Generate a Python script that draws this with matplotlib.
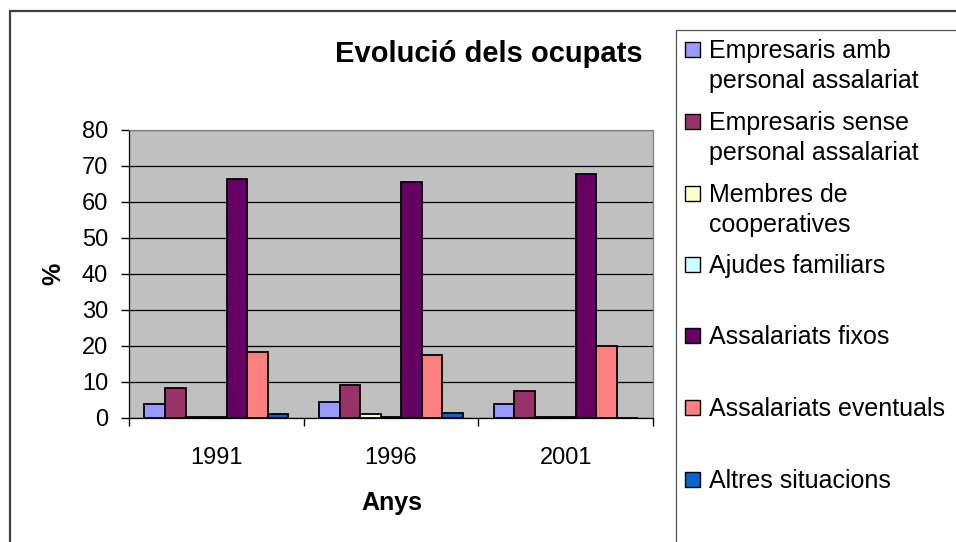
import numpy as np
import matplotlib.pyplot as plt
from matplotlib.patches import Rectangle

plt.rcParams['font.family'] = ['Liberation Sans', 'DejaVu Sans']

years = ['1991', '1996', '2001']
series_names = ['Empresaris amb\npersonal assalariat',
                'Empresaris sense\npersonal assalariat',
                'Membres de\ncooperatives',
                'Ajudes familiars',
                'Assalariats fixos',
                'Assalariats eventuals',
                'Altres situacions']
colors = ['#9999FF', '#993366', '#FFFFCC', '#CCFFFF', '#660066', '#FF8080', '#0066CC']

emp_amb = [3.9, 4.5, 3.9]
emp_sense = [8.3, 9.3, 7.6]
cooperatives = [0.4, 1.2, 0.3]
ajudes = [0.4, 0.4, 0.3]
fixos = [66.5, 65.5, 67.8]
eventuals = [18.2, 17.5, 19.9]
altres = [1.1, 1.5, 0.0]
values = [emp_amb, emp_sense, cooperatives, ajudes, fixos, eventuals, altres]

W, H = 956, 542
fig = plt.figure(figsize=(W / 100, H / 100), dpi=100)

def px(x, y):
    return x / W, 1 - y / H

# outer chart border and legend box (run past the figure edge like the source)
fig.add_artist(Rectangle(px(10, 560), (970 - 10) / W, (560 - 11) / H,
                         transform=fig.transFigure, fill=False,
                         edgecolor='#404040', linewidth=1.6))
fig.add_artist(Rectangle(px(676, 560), (970 - 676) / W, (560 - 30) / H,
                         transform=fig.transFigure, fill=False,
                         edgecolor='#555555', linewidth=0.9))

ax = fig.add_axes([129 / W, 1 - 418 / H, (653 - 129) / W, (418 - 130) / H])
ax.set_facecolor('#C0C0C0')

n = len(values)
x = np.arange(len(years))
bw = 1 / (n + 1.5)
for i, (vals, c) in enumerate(zip(values, colors)):
    offs = (i - (n - 1) / 2) * bw
    ax.bar(x + offs, vals, width=bw, color=c, edgecolor='black',
           linewidth=1.3, zorder=3)

ax.set_xlim(-0.5, len(years) - 0.5)
ax.set_ylim(0, 80)
ax.set_yticks(np.arange(0, 81, 10))
ax.yaxis.grid(True, color='black', linewidth=0.9, zorder=1)
ax.set_axisbelow(True)
ax.set_xticks(x)
ax.set_xticklabels(years)
ax.set_xticks(np.arange(-0.5, len(years), 1), minor=True)
ax.tick_params(axis='x', which='major', length=0, pad=21, labelsize=17)
ax.tick_params(axis='x', which='minor', length=6, width=1, direction='out')
ax.tick_params(axis='y', length=6, width=1, direction='out', labelsize=17, pad=9)
for s in ax.spines.values():
    s.set_color('#808080')
    s.set_linewidth(0.9)
ax.spines['left'].set_color('black')
ax.spines['bottom'].set_color('black')

ax.set_ylabel('%', fontsize=18, fontweight='bold', va='center', ha='center')
ax.yaxis.set_label_coords((53 - 129) / 524, 0.5)
ax.set_xlabel('Anys', fontsize=18, fontweight='bold', va='center')
ax.xaxis.set_label_coords((392 - 129) / 524, (418 - 503) / 288)

fig.text(*px(489, 62), 'Evolució dels ocupats', fontsize=21, fontweight='bold',
         ha='center', va='baseline')

# legend
ys = [50, 122, 194, 265, 336, 408, 480]
for name, c, y in zip(series_names, colors, ys):
    fig.add_artist(Rectangle(px(685, y + 7), 15 / W, 15 / H,
                             transform=fig.transFigure, facecolor=c,
                             edgecolor='black', linewidth=1.0))
    for k, line in enumerate(name.split('\n')):
        fig.text(*px(709, y + 8 + 30 * k), line, fontsize=18,
                 ha='left', va='baseline')

fig.savefig('out.png', dpi=100)
